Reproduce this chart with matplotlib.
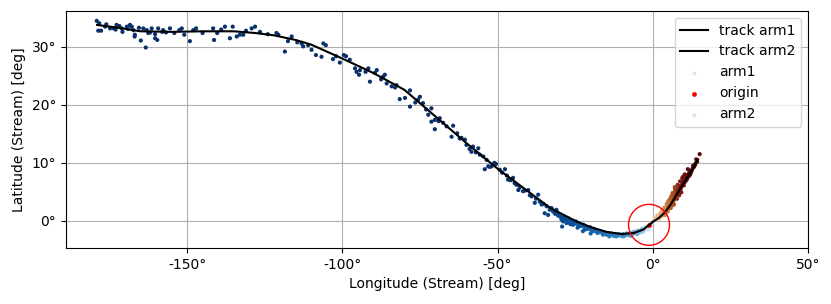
import numpy as np
import matplotlib
matplotlib.use("Agg")
import matplotlib.pyplot as plt
from matplotlib.colors import LogNorm, Normalize, LinearSegmentedColormap
from matplotlib.ticker import FuncFormatter, MultipleLocator

# ---- data ----
track1_x = [-179, -172, -165, -155, -145, -135, -128, -122, -115, -110, -100, -90, -80,
            -70, -60, -50, -40, -33, -25, -20, -15, -10, -6, -3, 0]
track1_y = [33.8, 33.3, 32.7, 32.6, 32.7, 32.7, 32.4, 32.0, 31.2, 30.4, 28.0, 25.5, 22.6,
            18.0, 13.4, 9.0, 5.0, 2.2, 0.0, -1.1, -1.9, -2.3, -2.1, -1.5, -0.2]

track2_x = [0, 2, 4, 6, 8, 10, 12, 14.6]
track2_y = [-0.2, 0.5, 1.5, 3.0, 4.8, 6.5, 8.2, 10.6]

arm1_x = [-179.1, -178.3, -178.6, -177.7, -176.4, -174.8, -173.7, -172.7, -171.8, -171.1,
          -170.8, -169.4, -168.4, -167.8, -167.3, -166.8, -166.9, -164.9, -164.1, -163.3,
          -163.0, -161.9, -161.4, -160.3, -159.6, -160.3, -159.3, -157.7, -156.8, -155.5,
          -154.1, -151.7, -150.9, -149.1, -148.0, -147.1, -141.6, -141.3, -140.3, -137.8,
          -136.2, -135.3, -134.0, -133.0, -131.9, -129.2, -128.1,
          -126.5, -121.2, -120.6, -118.5, -116.3, -113.1, -112.6, -111.0, -109.9, -108.5,
          -106.7, -106.1, -105.3, -103.0, -100.8, -98.8, -97.6, -95.9, -95.4, -94.6, -94.3,
          -91.6, -91.1, -89.5, -88.9, -86.8, -86.3, -85.7, -84.1, -82.5, -81.5, -79.8, -78.2,
          -78.2,
          -75.6, -75.0, -74.0, -72.3, -71.3, -71.3, -70.2, -70.2, -68.6, -66.4, -64.8, -64.3,
          -61.6, -60.5, -60.0, -58.4, -57.9, -56.2, -55.7, -54.6, -53.5, -54.1, -53.0, -51.9,
          -50.5, -49.3, -47.6, -46.6, -45.0, -43.9, -43.3, -41.8, -40.1, -39.0, -38.0, -36.9,
          -36.4, -35.8, -34.2, -32.6,
          -34.8, -33.7, -32.1, -31.0, -29.4, -28.9, -27.8, -26.7, -25.7, -24.0,
          -31.5, -30.5, -30.0, -29.0, -28.2, -27.5, -27.0, -26.2, -25.5, -25.0, -24.5, -23.8,
          -23.2, -22.6, -22.0, -21.5, -21.0, -20.4, -19.8, -19.2, -18.6, -18.0, -17.4, -16.8,
          -16.2, -15.6, -15.0, -14.4, -13.8, -13.2, -12.6, -12.0, -11.4, -10.8, -10.2, -9.6,
          -9.0, -8.4, -7.8, -7.2, -6.6, -6.0, -5.4, -4.8, -4.2, -3.6, -3.0, -2.4, -1.8, -1.2,
          -0.6, -22.5, -20.0, -29.2,
          # extra points in the dense band
          -176.0, -173.0, -169.0, -165.5, -162.5, -158.0, -152.5, -145.0, -139.0, -131.0,
          -124.0, -117.5, -114.5, -102.0, -99.5, -92.5, -87.5, -83.0, -76.5, -73.0,
          -69.0, -67.5, -63.0, -62.2, -59.0, -57.0, -52.5, -51.0, -48.5, -47.0,
          -45.8, -44.5, -42.8, -41.2, -39.6, -37.6, -35.2, -33.2, -31.8, -30.8,
          -29.8, -28.6, -27.2, -26.0, -24.8, -23.5, -22.3, -21.2, -20.2, -19.0,
          -18.2, -17.0, -15.8, -14.8, -13.6, -12.4, -11.2, -10.0, -8.8, -7.6,
          -6.4, -5.2, -4.0, -2.8, -2.0, -1.0, -0.3, -26.5, -24.2, -21.8,
          -19.5, -17.8, -16.0, -14.0, -11.8, -9.4, -7.0, -5.0, -3.3, -1.5]
arm1_y = [34.5, 34.1, 32.8, 32.8, 33.5, 33.2, 33.2, 33.8, 33.6, 33.2,
          32.6, 33.5, 33.8, 33.5, 32.9, 32.1, 31.8, 31.1, 33.2, 29.9,
          32.9, 32.5, 33.2, 31.5, 31.2, 32.2, 33.2, 32.9, 32.5, 33.2,
          32.4, 33.2, 32.1, 31.0, 32.9, 33.2, 33.2, 31.2, 32.4, 33.5,
          31.5, 33.5, 31.8, 32.1, 32.1, 33.2, 33.5,
          32.6, 32.4, 32.1, 29.2, 31.8, 30.6, 30.1, 30.3, 29.5, 28.6,
          28.3, 30.6, 30.3, 27.9, 27.3, 28.4, 27.8, 26.3, 25.7, 25.2, 26.0,
          26.3, 24.0, 25.5, 26.0, 24.9, 25.2, 23.7, 23.2, 23.4, 21.0, 21.2, 22.5,
          19.7,
          20.9, 21.4, 20.3, 18.3, 19.4, 17.1, 17.4, 15.8, 17.7, 16.3, 14.5, 16.4,
          14.3, 14.0, 13.1, 11.9, 12.8, 12.5, 11.4, 11.1, 10.5, 8.9, 9.4, 9.4,
          9.8, 8.8, 8.9, 7.1, 7.4, 6.2, 5.3, 5.1, 5.3, 4.2, 3.1, 4.5,
          3.3, 2.8, 2.5, 2.2,
          1.3, 1.0, 1.6, 1.9, 0.2, -0.1, -0.4, -0.4, -0.7, -1.0,
          1.2, 0.9, 1.1, 0.6, 0.3, 0.1, 0.0, -0.2, -0.3, -0.5, -0.4, -0.6,
          -0.9, -0.8, -1.2, -1.0, -1.4, -1.3, -1.6, -1.4, -1.8, -1.6, -2.0, -1.8,
          -2.2, -2.0, -2.3, -2.1, -2.5, -2.2, -2.6, -2.3, -2.6, -2.3, -2.6, -2.3,
          -2.5, -2.2, -2.5, -2.1, -2.4, -1.9, -2.2, -1.7, -2.0, -1.4, -1.7, -1.1, -1.3, -0.8,
          -0.6, -1.8, -2.2, -1.0,
          33.9, 33.0, 33.1, 33.3, 32.4, 32.6, 32.9, 32.4, 33.0, 32.8,
          32.2, 31.0, 30.8, 28.4, 28.6, 25.7, 24.4, 23.0, 20.4, 19.2,
          17.2, 16.9, 15.1, 14.2, 12.4, 11.8, 9.3, 10.0, 8.3, 7.8,
          7.0, 6.5, 5.8, 5.2, 4.4, 3.8, 2.9, 1.9, 1.7, 1.4,
          0.7, 0.7, 0.4, 0.0, -0.1, -0.6, -0.7, -1.1, -1.1, -1.4,
          -1.7, -1.9, -2.0, -2.4, -2.3, -2.5, -2.4, -2.5, -2.4, -2.3,
          -2.2, -2.0, -1.8, -1.4, -1.1, -0.9, -0.4, -0.6, -1.2, -1.5,
          -1.8, -2.1, -2.4, -2.7, -2.7, -2.7, -2.6, -2.3, -1.9, -1.5]

arm2_x = [0.3, 0.8, 1.2, 1.6, 2.0, 2.4, 2.8, 3.1, 3.5, 3.9, 4.2, 4.6, 5.0, 5.3, 5.6, 5.9,
          6.2, 6.5, 6.8, 7.0, 7.3, 7.6, 7.9, 8.1, 8.4, 8.7, 9.0, 9.3, 9.6, 9.9, 10.2, 10.5,
          10.8, 11.1, 11.5, 11.9, 12.3, 12.8, 13.3, 13.8, 14.3, 15.1,
          6.0, 7.2, 8.0, 8.8, 5.5, 9.5, 10.3, 11.3, 6.8, 4.8,
          1.0, 2.2, 3.3, 4.4, 5.2, 6.1, 6.6, 7.5, 8.3, 9.1, 9.8, 10.6, 11.6, 12.6, 13.6,
          7.8, 8.5, 9.2, 6.3, 5.8, 10.0, 11.0, 12.0, 13.0, 14.0,
          3.0, 3.8, 4.5, 5.0, 5.7, 6.4, 7.1, 4.0, 2.5, 1.5]
arm2_y = [0.1, 0.3, 0.2, 0.6, 0.4, 0.9, 0.8, 1.3, 1.1, 1.7, 1.6, 2.3, 2.0, 2.8, 2.5, 3.4,
          3.1, 4.0, 3.6, 4.6, 4.1, 5.0, 4.5, 5.6, 5.0, 6.0, 5.5, 6.7, 6.1, 7.1, 6.6, 7.5,
          7.0, 7.9, 7.6, 8.5, 8.3, 9.0, 9.3, 9.9, 10.2, 11.5,
          4.2, 5.4, 6.2, 6.8, 3.6, 7.4, 8.0, 8.9, 2.8, 1.6,
          0.5, 0.7, 1.0, 1.9, 2.4, 2.6, 3.3, 4.9, 5.4, 5.9, 7.6, 6.9, 8.1, 8.7, 9.6,
          3.8, 4.4, 4.9, 4.4, 2.2, 6.1, 7.2, 7.9, 9.5, 10.6,
          1.8, 2.3, 2.9, 3.4, 3.9, 4.8, 5.8, 1.0, 1.3, 0.9]

origin_x = [-1.2]
origin_y = [-0.7]

# ---- colours ----
a1 = np.array(arm1_x)
a2 = np.array(arm2_x)
blues = plt.get_cmap("Blues")
c1 = blues(0.22 + 0.78 * LogNorm(1.5, 45, clip=True)(-a1))
reds = LinearSegmentedColormap.from_list("arm2", ["#f2d6c2", "#e09a62", "#b0561f", "#7a1410", "#5a0707"])
c2 = reds(Normalize(0, 12, clip=True)(a2))

deg = FuncFormatter(lambda v, p: f"{v:.0f}°")

fig = plt.figure(figsize=(8.31, 3.04), dpi=100)
ax = fig.add_axes([0.0794, 0.1842, 0.8929, 0.7796])

# tracks first so they come first in the legend
ax.plot(track1_x, track1_y, c="k", lw=1.5, label="track arm1", zorder=3)
ax.plot(track2_x, track2_y, c="k", lw=1.5, label="track arm2", zorder=3)
ax.scatter(arm1_x, arm1_y, s=9, c=c1, linewidths=0, label="arm1", zorder=2)
ax.scatter(origin_x, origin_y, s=12, c="red", linewidths=0, label="origin", zorder=2)
ax.scatter(arm2_x, arm2_y, s=9, c=c2, linewidths=0, label="arm2", zorder=2)
ax.scatter(origin_x, origin_y, s=870, facecolors="none", edgecolors="red", linewidths=1, zorder=4)

ax.set_xlim(-189, 50)
ax.set_ylim(-4.7, 36.2)
ax.xaxis.set_major_locator(MultipleLocator(50))
ax.yaxis.set_major_locator(MultipleLocator(10))
ax.xaxis.set_major_formatter(deg)
ax.yaxis.set_major_formatter(deg)
ax.set_xlabel("Longitude (Stream) [deg]")
ax.set_ylabel("Latitude (Stream) [deg]")
ax.grid(True, color="#b0b0b0", lw=0.8)
ax.set_axisbelow(True)

leg = ax.legend(loc="upper right")
leg.legend_handles[2].set_facecolor("#ece2dc")
leg.legend_handles[4].set_facecolor("#ece2dc")

fig.savefig("out.png", dpi=100)
